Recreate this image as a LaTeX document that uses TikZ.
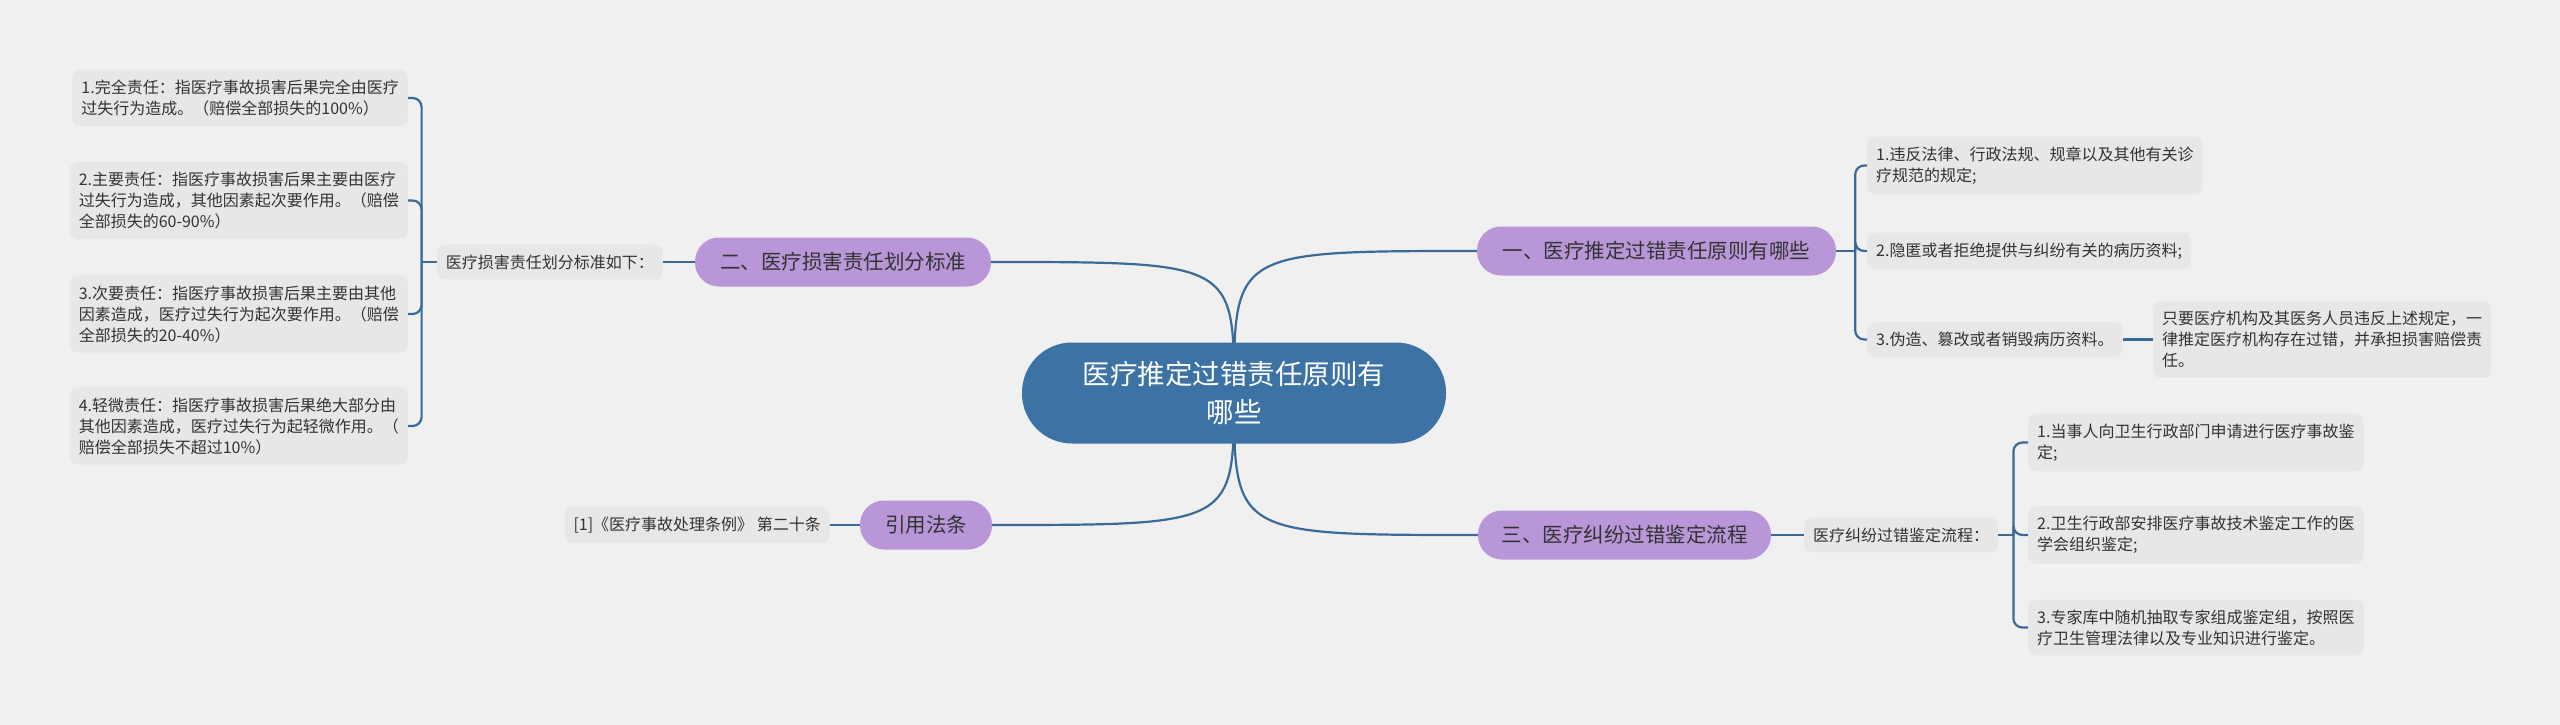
\documentclass[tikz,border=0pt]{standalone}
\usepackage{fontspec}
\setmainfont{Noto Sans CJK SC}
\usetikzlibrary{backgrounds}
\definecolor{bgcol}{HTML}{F0F0F0}
\definecolor{boxcol}{HTML}{E7E7E7}
\definecolor{branchcol}{HTML}{B896D8}
\definecolor{rootcol}{HTML}{3D72A5}
\definecolor{linkcol}{HTML}{3A6B98}
\definecolor{textcol}{HTML}{333333}
\begin{document}
\begin{tikzpicture}[x=1pt,y=-1pt,
  link/.style={draw=linkcol,line width=2.2pt},
  bracket/.style={link,rounded corners=9pt},
  branch/.style={fill=branchcol,rounded corners=24pt,minimum height=49pt,inner sep=0pt,text=textcol,font=\fontsize{20.5}{24}\selectfont},
  leaf/.style={fill=boxcol,rounded corners=8pt,inner xsep=9pt,inner ysep=10pt,align=left,text=textcol,font=\fontsize{16}{21}\selectfont}]
% pixel grid of the 2560x725 picture, y pointing down
  \useasboundingbox (0,0) rectangle (2560,725);
  \node[fill=rootcol,rounded corners=50pt,minimum width=424pt,minimum height=101pt,align=center,text=white,font=\fontsize{27.5}{38}\selectfont] (root) at (1234,393) {医疗推定过错责任原则有\\哪些};
  % left: 二
  \node[branch,minimum width=296pt] (b2) at (843,262) {二、医疗损害责任划分标准};
  \node[leaf,anchor=east] (b2lab) at (663,262) {医疗损害责任划分标准如下：};
  \node[leaf,anchor=east] (l1) at (408,98) {1.完全责任：指医疗事故损害后果完全由医疗\\过失行为造成。（赔偿全部损失的100\%）};
  \node[leaf,anchor=east] (l2) at (408,200.5) {2.主要责任：指医疗事故损害后果主要由医疗\\过失行为造成，其他因素起次要作用。（赔偿\\全部损失的60-90\%）};
  \node[leaf,anchor=east] (l3) at (408,314) {3.次要责任：指医疗事故损害后果主要由其他\\因素造成，医疗过失行为起次要作用。（赔偿\\全部损失的20-40\%）};
  \node[leaf,anchor=east] (l4) at (408,426) {4.轻微责任：指医疗事故损害后果绝大部分由\\其他因素造成，医疗过失行为起轻微作用。（\\赔偿全部损失不超过10\%）};
  % left: 引用法条
  \node[branch,minimum width=132pt] (b4) at (926,525) {引用法条};
  \node[leaf,anchor=east] (ref) at (830,525) {[1]《医疗事故处理条例》 第二十条};
  % right: 一
  \node[branch,minimum width=359pt] (b1) at (1656.5,251) {一、医疗推定过错责任原则有哪些};
  \node[leaf,anchor=west] (r1) at (1867,165.5) {1.违反法律、行政法规、规章以及其他有关诊\\疗规范的规定;};
  \node[leaf,anchor=west] (r2) at (1867,251) {2.隐匿或者拒绝提供与纠纷有关的病历资料;};
  \node[leaf,anchor=west] (r3) at (1867,339.5) {3.伪造、篡改或者销毁病历资料。};
  \node[leaf,anchor=west] (sub) at (2153,339.5) {只要医疗机构及其医务人员违反上述规定，一\\律推定医疗机构存在过错，并承担损害赔偿责\\任。};
  % right: 三
  \node[branch,minimum width=293pt] (b3) at (1624.5,535) {三、医疗纠纷过错鉴定流程};
  \node[leaf,anchor=west] (b3lab) at (1804,535) {医疗纠纷过错鉴定流程：};
  \node[leaf,anchor=west] (p1) at (2028,442.5) {1.当事人向卫生行政部门申请进行医疗事故鉴\\定;};
  \node[leaf,anchor=west] (p2) at (2028,535) {2.卫生行政部安排医疗事故技术鉴定工作的医\\学会组织鉴定;};
  \node[leaf,anchor=west] (p3) at (2028,627.5) {3.专家库中随机抽取专家组成鉴定组，按照医\\疗卫生管理法律以及专业知识进行鉴定。};
  \begin{scope}[on background layer]
    \fill[bgcol] (0,0) rectangle (2560,725);
    \draw[link] (root.center) .. controls (root.center |- b2.east) .. (b2.east);
    \draw[link] (root.center) .. controls (root.center |- b4.east) .. (b4.east);
    \draw[link] (root.center) .. controls (root.center |- b1.west) .. (b1.west);
    \draw[link] (root.center) .. controls (root.center |- b3.west) .. (b3.west);
  \end{scope}
  \draw[link] (b2lab.east) -- (b2.west);
  \draw[link] (b2lab.west) -- ++(-15,0);
  \foreach \n in {l1,l2,l3,l4}
    \draw[bracket] (b2lab.west) ++(-15,0) |- (\n.east);
  \draw[link] (ref.east) -- (b4.west);
  \draw[link] (b1.east) -- ++(19,0);
  \foreach \n in {r1,r2,r3}
    \draw[bracket] (b1.east) ++(19,0) |- (\n.west);
  \draw[link] (r3.east) -- (sub.west);
  \draw[link] (b3.east) -- (b3lab.west);
  \draw[link] (b3lab.east) -- ++(15,0);
  \foreach \n in {p1,p2,p3}
    \draw[bracket] (b3lab.east) ++(15,0) |- (\n.west);
\end{tikzpicture}
\end{document}
